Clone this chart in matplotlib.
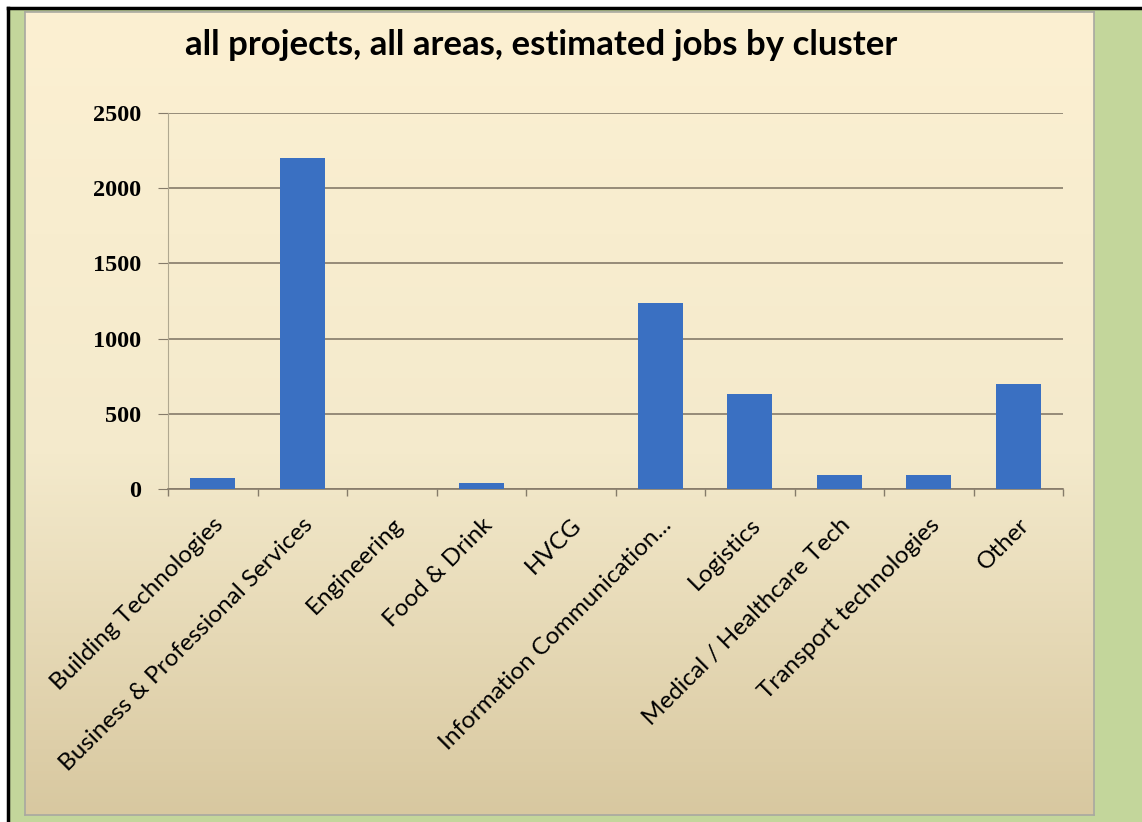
import numpy as np
import matplotlib.pyplot as plt
from matplotlib.patches import Rectangle
from matplotlib.lines import Line2D

# estimated jobs per cluster
clusters = ['Building Technologies', 'Business & Professional Services', 'Engineering',
            'Food & Drink', 'HVCG', 'Information Communication...', 'Logistics',
            'Medical / Healthcare Tech', 'Transport technologies', 'Other']
jobs = [70, 2200, 0, 40, 0, 1240, 630, 90, 90, 700]
yticks = [0, 500, 1000, 1500, 2000, 2500]

W, H = 1142, 822
fig = plt.figure(figsize=(W / 100, H / 100), dpi=100, facecolor='#c3d69b')

# white margin with black rule on top and left
fig.patches.append(Rectangle((0, 0), 7 / W, 1, transform=fig.transFigure, color='white', zorder=0))
fig.patches.append(Rectangle((0, 1 - 7 / H), 1, 7 / H, transform=fig.transFigure, color='white', zorder=0))
fig.lines.append(Line2D([8 / W, 8 / W], [0, 1 - 8 / H], transform=fig.transFigure, color='black', lw=2.5))
fig.lines.append(Line2D([8 / W, 1], [1 - 8 / H, 1 - 8 / H], transform=fig.transFigure, color='black', lw=2.5))

# chart panel with vertical gradient
px0, px1, py0, py1 = 25, 1094, 12, 815
bg = fig.add_axes([px0 / W, 1 - py1 / H, (px1 - px0) / W, (py1 - py0) / H], zorder=0)
top = np.array([0xfc, 0xf0, 0xd2]) / 255
mid = np.array([0xf4, 0xea, 0xcc]) / 255
bot = np.array([0xd8, 0xc8, 0xa0]) / 255
t = np.linspace(0, 1, 256)[:, None]
grad = np.where(t < 0.55, top + (mid - top) * (t / 0.55), mid + (bot - mid) * ((t - 0.55) / 0.45))
bg.imshow(grad[:, None, :].repeat(2, axis=1), aspect='auto', extent=[0, 1, 0, 1])
bg.set_xticks([])
bg.set_yticks([])
for s in bg.spines.values():
    s.set_color('#a8a8a0')
    s.set_linewidth(1.2)

ax = fig.add_axes([168 / W, 1 - 489 / H, (1063 - 168) / W, (489 - 113) / H], zorder=1)
ax.patch.set_alpha(0)
x = np.arange(len(clusters))
ax.bar(x, jobs, width=0.5, color='#3a70c2', zorder=3)

ax.set_xlim(-0.5, len(clusters) - 0.5)
ax.set_ylim(0, 2500)
ax.set_yticks(yticks)
ax.set_yticklabels([str(v) for v in yticks], fontfamily='Liberation Serif',
                   fontweight='bold', fontsize=17.5)
ax.grid(axis='y', color='#857b6a', linewidth=1.2, zorder=1)
ax.tick_params(axis='y', length=7, color='#857b6a', pad=12)

ax.set_xticks(np.arange(len(clusters) + 1) - 0.5)
ax.set_xticklabels([])
ax.tick_params(axis='x', length=5, color='#857b6a', width=1)
ax.set_xticks(x, minor=True)
ax.set_xticklabels(clusters, minor=True, rotation=45, ha='right', rotation_mode='anchor',
                   fontfamily='Lato', fontsize=17.5)
ax.tick_params(axis='x', which='minor', length=0, pad=18)

for side in ['top', 'right']:
    ax.spines[side].set_visible(False)
ax.spines['left'].set_color('#b0a890')
ax.spines['left'].set_linewidth(0.8)
ax.spines['bottom'].set_color('#857b6a')
ax.spines['bottom'].set_linewidth(1.2)

fig.text(0.474, 1 - 45 / H, 'all projects, all areas, estimated jobs by cluster',
         ha='center', va='center', fontfamily='Lato', fontweight='bold', fontsize=25)

fig.savefig('out.png', dpi=100, facecolor=fig.get_facecolor())
